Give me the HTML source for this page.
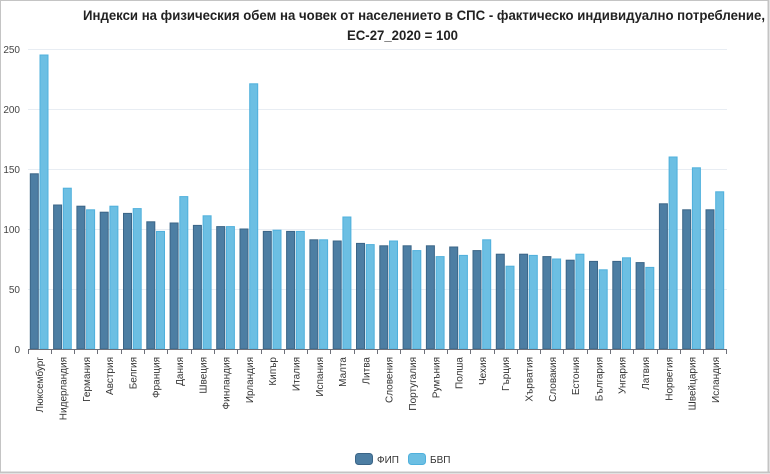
<!DOCTYPE html>
<html><head><meta charset="utf-8"><style>
html,body{margin:0;padding:0;background:#fff;}
svg{display:block;font-family:"Liberation Sans","DejaVu Sans",sans-serif;}
.d{fill:#4d7ea3;stroke:#3b6587;stroke-width:1}
.l{fill:#6cbfe3;stroke:#4fb0dc;stroke-width:1}
.lab{font-size:10px;fill:#333;}
.yt{font-size:10px;fill:#444;}
</style></head><body>
<svg width="770" height="474" viewBox="0 0 770 474">
<rect x="0.5" y="0.5" width="767.5" height="471.5" fill="#fff" stroke="#c4c4c4" stroke-width="1"/>
<line x1="768.5" y1="0" x2="768.5" y2="473" stroke="#c4c4c4" stroke-width="2"/>
<line x1="0" y1="472.5" x2="770" y2="472.5" stroke="#c4c4c4" stroke-width="2"/>
<text x="83" y="20" font-size="14" font-weight="bold" fill="#222" textLength="682" lengthAdjust="spacingAndGlyphs">Индекси на физическия обем на човек от населението в СПС - фактическо индивидуално потребление,</text>
<text x="347" y="40" font-size="14" font-weight="bold" fill="#222" textLength="111" lengthAdjust="spacingAndGlyphs">ЕС-27_2020 = 100</text>
<g stroke="#e8edf3" stroke-width="1">
<line x1="28" y1="49.5" x2="727" y2="49.5"/>
<line x1="28" y1="109.5" x2="727" y2="109.5"/>
<line x1="28" y1="169.5" x2="727" y2="169.5"/>
<line x1="28" y1="229.5" x2="727" y2="229.5"/>
<line x1="28" y1="289.5" x2="727" y2="289.5"/>
</g>
<g class="yt" text-anchor="end">
<text x="20" y="53">250</text><text x="20" y="113">200</text><text x="20" y="173">150</text>
<text x="20" y="233">100</text><text x="20" y="293">50</text><text x="20" y="353">0</text>
</g>
<g transform="translate(28,0)"><rect class="d" x="2.3" y="173.8" width="8" height="175.2"/><rect class="l" x="12" y="55" width="8" height="294"/></g>
<g transform="translate(51.3,0)"><rect class="d" x="2.3" y="205" width="8" height="144"/><rect class="l" x="12" y="188.2" width="8" height="160.8"/></g>
<g transform="translate(74.6,0)"><rect class="d" x="2.3" y="206.2" width="8" height="142.8"/><rect class="l" x="12" y="209.8" width="8" height="139.2"/></g>
<g transform="translate(97.9,0)"><rect class="d" x="2.3" y="212.2" width="8" height="136.8"/><rect class="l" x="12" y="206.2" width="8" height="142.8"/></g>
<g transform="translate(121.2,0)"><rect class="d" x="2.3" y="213.4" width="8" height="135.6"/><rect class="l" x="12" y="208.6" width="8" height="140.4"/></g>
<g transform="translate(144.5,0)"><rect class="d" x="2.3" y="221.8" width="8" height="127.2"/><rect class="l" x="12" y="231.4" width="8" height="117.6"/></g>
<g transform="translate(167.8,0)"><rect class="d" x="2.3" y="223" width="8" height="126"/><rect class="l" x="12" y="196.6" width="8" height="152.4"/></g>
<g transform="translate(191.1,0)"><rect class="d" x="2.3" y="225.4" width="8" height="123.6"/><rect class="l" x="12" y="215.8" width="8" height="133.2"/></g>
<g transform="translate(214.4,0)"><rect class="d" x="2.3" y="226.6" width="8" height="122.4"/><rect class="l" x="12" y="226.6" width="8" height="122.4"/></g>
<g transform="translate(237.7,0)"><rect class="d" x="2.3" y="229" width="8" height="120"/><rect class="l" x="12" y="83.8" width="8" height="265.2"/></g>
<g transform="translate(261,0)"><rect class="d" x="2.3" y="231.4" width="8" height="117.6"/><rect class="l" x="12" y="230.2" width="8" height="118.8"/></g>
<g transform="translate(284.3,0)"><rect class="d" x="2.3" y="231.4" width="8" height="117.6"/><rect class="l" x="12" y="231.4" width="8" height="117.6"/></g>
<g transform="translate(307.6,0)"><rect class="d" x="2.3" y="239.8" width="8" height="109.2"/><rect class="l" x="12" y="239.8" width="8" height="109.2"/></g>
<g transform="translate(330.9,0)"><rect class="d" x="2.3" y="241" width="8" height="108"/><rect class="l" x="12" y="217" width="8" height="132"/></g>
<g transform="translate(354.2,0)"><rect class="d" x="2.3" y="243.4" width="8" height="105.6"/><rect class="l" x="12" y="244.6" width="8" height="104.4"/></g>
<g transform="translate(377.5,0)"><rect class="d" x="2.3" y="245.8" width="8" height="103.2"/><rect class="l" x="12" y="241" width="8" height="108"/></g>
<g transform="translate(400.8,0)"><rect class="d" x="2.3" y="245.8" width="8" height="103.2"/><rect class="l" x="12" y="250.6" width="8" height="98.4"/></g>
<g transform="translate(424.1,0)"><rect class="d" x="2.3" y="245.8" width="8" height="103.2"/><rect class="l" x="12" y="256.6" width="8" height="92.4"/></g>
<g transform="translate(447.4,0)"><rect class="d" x="2.3" y="247" width="8" height="102"/><rect class="l" x="12" y="255.4" width="8" height="93.6"/></g>
<g transform="translate(470.7,0)"><rect class="d" x="2.3" y="250.6" width="8" height="98.4"/><rect class="l" x="12" y="239.8" width="8" height="109.2"/></g>
<g transform="translate(494,0)"><rect class="d" x="2.3" y="254.2" width="8" height="94.8"/><rect class="l" x="12" y="266.2" width="8" height="82.8"/></g>
<g transform="translate(517.3,0)"><rect class="d" x="2.3" y="254.2" width="8" height="94.8"/><rect class="l" x="12" y="255.4" width="8" height="93.6"/></g>
<g transform="translate(540.6,0)"><rect class="d" x="2.3" y="256.6" width="8" height="92.4"/><rect class="l" x="12" y="259" width="8" height="90"/></g>
<g transform="translate(563.9,0)"><rect class="d" x="2.3" y="260.2" width="8" height="88.8"/><rect class="l" x="12" y="254.2" width="8" height="94.8"/></g>
<g transform="translate(587.2,0)"><rect class="d" x="2.3" y="261.4" width="8" height="87.6"/><rect class="l" x="12" y="269.8" width="8" height="79.2"/></g>
<g transform="translate(610.5,0)"><rect class="d" x="2.3" y="261.4" width="8" height="87.6"/><rect class="l" x="12" y="257.8" width="8" height="91.2"/></g>
<g transform="translate(633.8,0)"><rect class="d" x="2.3" y="262.6" width="8" height="86.4"/><rect class="l" x="12" y="267.4" width="8" height="81.6"/></g>
<g transform="translate(657.1,0)"><rect class="d" x="2.3" y="203.8" width="8" height="145.2"/><rect class="l" x="12" y="157" width="8" height="192"/></g>
<g transform="translate(680.4,0)"><rect class="d" x="2.3" y="209.8" width="8" height="139.2"/><rect class="l" x="12" y="167.8" width="8" height="181.2"/></g>
<g transform="translate(703.7,0)"><rect class="d" x="2.3" y="209.8" width="8" height="139.2"/><rect class="l" x="12" y="191.8" width="8" height="157.2"/></g>
<line x1="28" y1="349.5" x2="727" y2="349.5" stroke="#6e7079" stroke-width="1"/>
<g stroke="#6e7079" stroke-width="1">
<line x1="28.5" y1="349" x2="28.5" y2="354"/><line x1="51.5" y1="349" x2="51.5" y2="354"/><line x1="74.5" y1="349" x2="74.5" y2="354"/><line x1="97.5" y1="349" x2="97.5" y2="354"/><line x1="121.5" y1="349" x2="121.5" y2="354"/><line x1="144.5" y1="349" x2="144.5" y2="354"/><line x1="167.5" y1="349" x2="167.5" y2="354"/><line x1="191.5" y1="349" x2="191.5" y2="354"/><line x1="214.5" y1="349" x2="214.5" y2="354"/><line x1="237.5" y1="349" x2="237.5" y2="354"/><line x1="261.5" y1="349" x2="261.5" y2="354"/><line x1="284.5" y1="349" x2="284.5" y2="354"/><line x1="307.5" y1="349" x2="307.5" y2="354"/><line x1="330.5" y1="349" x2="330.5" y2="354"/><line x1="354.5" y1="349" x2="354.5" y2="354"/><line x1="377.5" y1="349" x2="377.5" y2="354"/><line x1="400.5" y1="349" x2="400.5" y2="354"/><line x1="424.5" y1="349" x2="424.5" y2="354"/><line x1="447.5" y1="349" x2="447.5" y2="354"/><line x1="470.5" y1="349" x2="470.5" y2="354"/><line x1="494.5" y1="349" x2="494.5" y2="354"/><line x1="517.5" y1="349" x2="517.5" y2="354"/><line x1="540.5" y1="349" x2="540.5" y2="354"/><line x1="563.5" y1="349" x2="563.5" y2="354"/><line x1="587.5" y1="349" x2="587.5" y2="354"/><line x1="610.5" y1="349" x2="610.5" y2="354"/><line x1="633.5" y1="349" x2="633.5" y2="354"/><line x1="657.5" y1="349" x2="657.5" y2="354"/><line x1="680.5" y1="349" x2="680.5" y2="354"/><line x1="703.5" y1="349" x2="703.5" y2="354"/><line x1="726.5" y1="349" x2="726.5" y2="354"/>
</g>
<g class="lab" text-anchor="end">
<text transform="translate(43.2,357) rotate(-90)">Люксембург</text>
<text transform="translate(66.5,357) rotate(-90)">Нидерландия</text>
<text transform="translate(89.8,357) rotate(-90)">Германия</text>
<text transform="translate(113.1,357) rotate(-90)">Австрия</text>
<text transform="translate(136.4,357) rotate(-90)">Белгия</text>
<text transform="translate(159.7,357) rotate(-90)">Франция</text>
<text transform="translate(183,357) rotate(-90)">Дания</text>
<text transform="translate(206.3,357) rotate(-90)">Швеция</text>
<text transform="translate(229.6,357) rotate(-90)">Финландия</text>
<text transform="translate(252.9,357) rotate(-90)">Ирландия</text>
<text transform="translate(276.2,357) rotate(-90)">Кипър</text>
<text transform="translate(299.5,357) rotate(-90)">Италия</text>
<text transform="translate(322.8,357) rotate(-90)">Испания</text>
<text transform="translate(346.1,357) rotate(-90)">Малта</text>
<text transform="translate(369.4,357) rotate(-90)">Литва</text>
<text transform="translate(392.7,357) rotate(-90)">Словения</text>
<text transform="translate(416,357) rotate(-90)">Португалия</text>
<text transform="translate(439.3,357) rotate(-90)">Румъния</text>
<text transform="translate(462.6,357) rotate(-90)">Полша</text>
<text transform="translate(485.9,357) rotate(-90)">Чехия</text>
<text transform="translate(509.2,357) rotate(-90)">Гърция</text>
<text transform="translate(532.5,357) rotate(-90)">Хърватия</text>
<text transform="translate(555.8,357) rotate(-90)">Словакия</text>
<text transform="translate(579.1,357) rotate(-90)">Естония</text>
<text transform="translate(602.4,357) rotate(-90)">България</text>
<text transform="translate(625.7,357) rotate(-90)">Унгария</text>
<text transform="translate(649,357) rotate(-90)">Латвия</text>
<text transform="translate(672.3,357) rotate(-90)">Норвегия</text>
<text transform="translate(695.6,357) rotate(-90)">Швейцария</text>
<text transform="translate(718.9,357) rotate(-90)">Исландия</text>
</g>
<rect x="355.5" y="453.5" width="17" height="11" rx="3" class="d"/>
<text x="377" y="463" font-size="10" fill="#333">ФИП</text>
<rect x="408.5" y="453.5" width="17" height="11" rx="3" class="l"/>
<text x="430" y="463" font-size="10" fill="#333">БВП</text>
</svg>
</body></html>
